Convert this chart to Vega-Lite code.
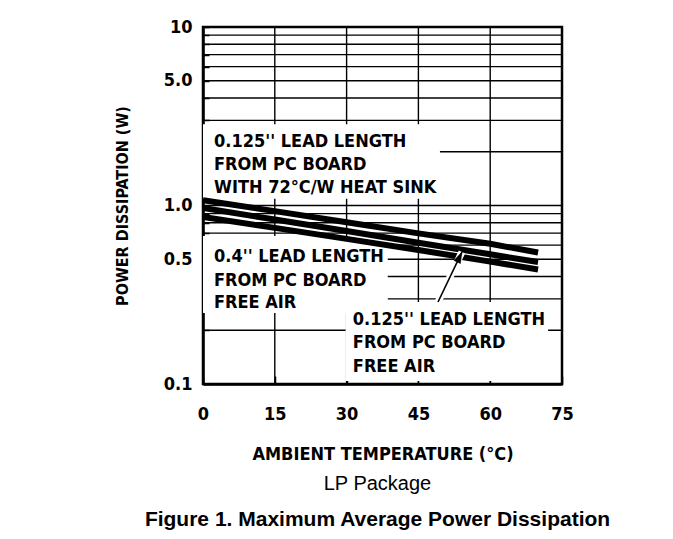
{
  "$schema": "https://vega.github.io/schema/vega-lite/v6.json",
  "width": 359,
  "height": 357,
  "autosize": {"type": "none"},
  "padding": {"left": 203, "top": 27, "right": 111, "bottom": 155},
  "background": "white",
  "config": {
    "view": {"stroke": "black", "strokeWidth": 2.5},
    "axisX": {
      "format": "d",
      "labelFont": "Liberation Sans Narrow, DejaVu Sans Condensed, sans-serif",
      "labelFontSize": 18,
      "labelFontWeight": "bold",
      "labelColor": "black",
      "labelFlush": false,
      "labelPadding": 29,
      "tickColor": "black",
      "tickSize": -8,
      "tickWidth": 1.5,
      "domain": true,
      "domainColor": "black",
      "domainWidth": 2.5,
      "grid": false,
      "titleFont": "Liberation Sans Narrow, DejaVu Sans Condensed, sans-serif",
      "titleFontSize": 18,
      "titleFontWeight": "bold",
      "titleColor": "black",
      "titlePadding": 22,
      "zindex": 1
    },
    "axisY": {
      "labelExpr": "datum.value == 10 ? '10' : datum.value == 5 ? '5.0' : datum.value == 1 ? '1.0' : datum.value == 0.5 ? '0.5' : datum.value == 0.1 ? '0.1' : ''",
      "labelOverlap": false,
      "labelFont": "Liberation Sans Narrow, DejaVu Sans Condensed, sans-serif",
      "labelFontSize": 18,
      "labelFontWeight": "bold",
      "labelColor": "black",
      "labelPadding": 17,
      "tickColor": "black",
      "tickSize": -6,
      "tickWidth": 1.5,
      "domain": true,
      "domainColor": "black",
      "domainWidth": 2.5,
      "grid": false,
      "titleFont": "Liberation Sans Narrow, DejaVu Sans Condensed, sans-serif",
      "titleFontSize": 16,
      "titleFontWeight": "bold",
      "titleColor": "black",
      "titlePadding": 33,
      "zindex": 1
    }
  },
  "title": {
    "text": "LP Package",
    "subtitle": "Figure 1. Maximum Average Power Dissipation",
    "orient": "bottom",
    "anchor": "middle",
    "frame": "group",
    "dx": -5,
    "font": "Liberation Sans, Arial, sans-serif",
    "fontSize": 20,
    "fontWeight": "normal",
    "color": "black",
    "subtitleFont": "Liberation Sans, Arial, sans-serif",
    "subtitleFontSize": 21,
    "subtitleFontWeight": "bold",
    "subtitleColor": "black",
    "subtitlePadding": 15,
    "offset": 11
  },
  "datasets": {
    "hgrid": [
      {"p": 0.2}, {"p": 0.3}, {"p": 0.4}, {"p": 0.5}, {"p": 0.6}, {"p": 0.7}, {"p": 0.8}, {"p": 0.9},
      {"p": 1}, {"p": 2}, {"p": 3}, {"p": 4}, {"p": 5}, {"p": 6}, {"p": 7}, {"p": 8}, {"p": 9}
    ],
    "vgrid": [{"t": 15}, {"t": 30}, {"t": 45}, {"t": 60}],
    "boxes": [
      {"t": 0, "t2": 49.5, "p": 1.09, "p2": 2.85},
      {"t": 0, "t2": 38.6, "p": 0.25, "p2": 0.675},
      {"t": 29.8, "t2": 72.1, "p": 0.104, "p2": 0.288}
    ],
    "curves": [
      {"series": "heat sink", "t": 0, "p": 1.07},
      {"series": "heat sink", "t": 15, "p": 0.93},
      {"series": "heat sink", "t": 30, "p": 0.805},
      {"series": "heat sink", "t": 45, "p": 0.698},
      {"series": "heat sink", "t": 60, "p": 0.61},
      {"series": "heat sink", "t": 70, "p": 0.545},
      {"series": "0.125 free air", "t": 0, "p": 0.968},
      {"series": "0.125 free air", "t": 15, "p": 0.834},
      {"series": "0.125 free air", "t": 30, "p": 0.719},
      {"series": "0.125 free air", "t": 45, "p": 0.619},
      {"series": "0.125 free air", "t": 60, "p": 0.533},
      {"series": "0.125 free air", "t": 70, "p": 0.482},
      {"series": "0.4 free air", "t": 0, "p": 0.862},
      {"series": "0.4 free air", "t": 15, "p": 0.749},
      {"series": "0.4 free air", "t": 30, "p": 0.65},
      {"series": "0.4 free air", "t": 45, "p": 0.563},
      {"series": "0.4 free air", "t": 60, "p": 0.485},
      {"series": "0.4 free air", "t": 70, "p": 0.438}
    ],
    "arrow": [{"t": 49.1, "p": 0.288, "t2": 54.1, "p2": 0.549}],
    "labels": [
      {"t": 2.3, "p": 2.127, "label": "0.125'' LEAD LENGTH"},
      {"t": 2.3, "p": 1.58, "label": "FROM PC BOARD"},
      {"t": 2.3, "p": 1.175, "label": "WITH 72°C/W HEAT SINK"},
      {"t": 2.3, "p": 0.4826, "label": "0.4'' LEAD LENGTH"},
      {"t": 2.3, "p": 0.354, "label": "FROM PC BOARD"},
      {"t": 2.3, "p": 0.2666, "label": "FREE AIR"},
      {"t": 31.3, "p": 0.214, "label": "0.125'' LEAD LENGTH"},
      {"t": 31.3, "p": 0.159, "label": "FROM PC BOARD"},
      {"t": 31.3, "p": 0.1167, "label": "FREE AIR"}
    ]
  },
  "layer": [
    {
      "data": {"name": "hgrid"},
      "mark": {"type": "rule", "color": "black", "strokeWidth": 1.4},
      "encoding": {
        "y": {
          "field": "p", "type": "quantitative", "title": "POWER DISSIPATION (W)",
          "scale": {"type": "log", "domain": [0.1, 10], "nice": false},
          "axis": {"values": [0.1, 0.2, 0.3, 0.4, 0.5, 0.6, 0.7, 0.8, 0.9, 1, 2, 3, 4, 5, 6, 7, 8, 9, 10]}
        }
      }
    },
    {
      "data": {"name": "vgrid"},
      "mark": {"type": "rule", "color": "black", "strokeWidth": 1.4},
      "encoding": {
        "x": {
          "field": "t", "type": "quantitative", "title": "AMBIENT TEMPERATURE (°C)",
          "scale": {"domain": [0, 75], "nice": false, "zero": false},
          "axis": {"values": [0, 15, 30, 45, 60, 75]}
        }
      }
    },
    {
      "data": {"name": "boxes"},
      "mark": {"type": "rect", "fill": "white", "stroke": null},
      "encoding": {
        "x": {"field": "t", "type": "quantitative", "title": "AMBIENT TEMPERATURE (°C)"},
        "x2": {"field": "t2"},
        "y": {"field": "p", "type": "quantitative", "title": "POWER DISSIPATION (W)"},
        "y2": {"field": "p2"}
      }
    },
    {
      "data": {"name": "curves"},
      "mark": {"type": "line", "color": "black", "strokeWidth": 6, "strokeCap": "butt", "clip": true},
      "encoding": {
        "x": {"field": "t", "type": "quantitative", "title": "AMBIENT TEMPERATURE (°C)"},
        "y": {"field": "p", "type": "quantitative", "title": "POWER DISSIPATION (W)"},
        "detail": {"field": "series"}
      }
    },
    {
      "data": {"name": "arrow"},
      "mark": {"type": "rule", "color": "white", "strokeWidth": 7},
      "encoding": {
        "x": {"field": "t", "type": "quantitative", "title": "AMBIENT TEMPERATURE (°C)"},
        "x2": {"field": "t2"},
        "y": {"field": "p", "type": "quantitative", "title": "POWER DISSIPATION (W)"},
        "y2": {"field": "p2"}
      }
    },
    {
      "data": {"name": "arrow"},
      "mark": {"type": "rule", "color": "black", "strokeWidth": 1.6},
      "encoding": {
        "x": {"field": "t", "type": "quantitative", "title": "AMBIENT TEMPERATURE (°C)"},
        "x2": {"field": "t2"},
        "y": {"field": "p", "type": "quantitative", "title": "POWER DISSIPATION (W)"},
        "y2": {"field": "p2"}
      }
    },
    {
      "data": {"name": "arrow"},
      "mark": {"type": "point", "shape": "M0,0L-0.45,1.4L0.45,1.4Z", "angle": 25.6, "size": 250, "filled": true, "fill": "black", "stroke": "black", "strokeWidth": 0.5, "opacity": 1},
      "encoding": {
        "x": {"field": "t2", "type": "quantitative", "title": "AMBIENT TEMPERATURE (°C)"},
        "y": {"field": "p2", "type": "quantitative", "title": "POWER DISSIPATION (W)"}
      }
    },
    {
      "data": {"name": "labels"},
      "mark": {"type": "text", "align": "left", "baseline": "alphabetic", "font": "Liberation Sans Narrow, DejaVu Sans Condensed, sans-serif", "fontSize": 18, "fontWeight": "bold", "color": "black"},
      "encoding": {
        "x": {"field": "t", "type": "quantitative", "title": "AMBIENT TEMPERATURE (°C)"},
        "y": {"field": "p", "type": "quantitative", "title": "POWER DISSIPATION (W)"},
        "text": {"field": "label"}
      }
    }
  ]
}
